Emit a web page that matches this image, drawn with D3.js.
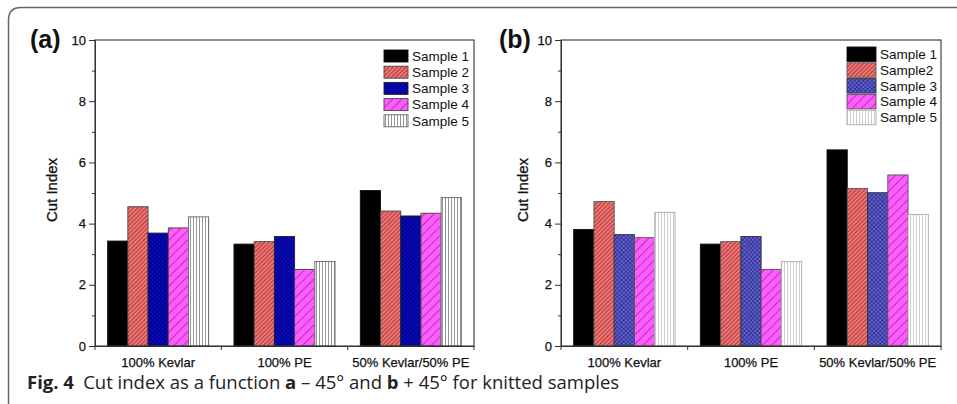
<!DOCTYPE html>
<html><head><meta charset="utf-8">
<script src="https://cdn.jsdelivr.net/npm/d3@7"></script>
<style>
html,body{margin:0;padding:0;background:#fff;}
svg{display:block;}
</style></head>
<body>
<svg id="c" width="957" height="404"></svg>
<script>
const categories = ["100% Kevlar", "100% PE", "50% Kevlar/50% PE"];
const samplesA = ["Sample 1", "Sample 2", "Sample 3", "Sample 4", "Sample 5"];
const samplesB = ["Sample 1", "Sample2", "Sample 3", "Sample 4", "Sample 5"];
// values[sample][category]
const valuesA = [
  [3.43, 3.33, 5.08],
  [4.55, 3.41, 4.41],
  [3.69, 3.58, 4.25],
  [3.86, 2.50, 4.34],
  [4.22, 2.76, 4.85]
];
const valuesB = [
  [3.81, 3.33, 6.41],
  [4.72, 3.41, 5.15],
  [3.64, 3.58, 5.01],
  [3.54, 2.50, 5.59],
  [4.37, 2.76, 4.30]
];
const yTicks = [0, 2, 4, 6, 8, 10];
const yMinorTicks = [1, 3, 5, 7, 9];

const svg = d3.select("#c");
const defs = svg.append("defs");

function hatch(id, bg, stroke, spacing, kind, sw) {
  const p = defs.append("pattern").attr("id", id).attr("patternUnits", "userSpaceOnUse")
    .attr("width", spacing).attr("height", spacing);
  if (kind === "diag" || kind === "cross") p.attr("patternTransform", "rotate(45)");
  p.append("rect").attr("width", spacing).attr("height", spacing).attr("fill", bg);
  if (kind === "vert" || kind === "diag" || kind === "cross") {
    p.append("line").attr("x1", spacing / 2).attr("x2", spacing / 2).attr("y1", 0).attr("y2", spacing)
      .attr("stroke", stroke).attr("stroke-width", sw);
  }
  if (kind === "cross") {
    p.append("line").attr("y1", spacing / 2).attr("y2", spacing / 2).attr("x1", 0).attr("x2", spacing)
      .attr("stroke", stroke).attr("stroke-width", sw);
  }
}
hatch("a2", "#f07474", "#a83838", 3, "diag", 0.9);
hatch("a3", "#0a0ad0", "#000070", 3, "cross", 0.8);
hatch("a4", "#ff5cff", "#b030b0", 6.5, "diag", 0.9);
hatch("a5", "#ffffff", "#8a8a8a", 3, "vert", 0.9);
hatch("b2", "#f07474", "#a83838", 3, "diag", 0.9);
hatch("b3", "#6262e0", "#30307a", 3, "cross", 0.8);
hatch("b4", "#ff5cff", "#b030b0", 6.5, "diag", 0.9);
hatch("b5", "#ffffff", "#c8c8c8", 3, "vert", 0.9);

const fillsA = ["#000", "url(#a2)", "url(#a3)", "url(#a4)", "url(#a5)"];
const strokesA = ["#111", "#444", "#222", "#444", "#666"];
const fillsB = ["#000", "url(#b2)", "url(#b3)", "url(#b4)", "url(#b5)"];
const strokesB = ["#111", "#555", "#333", "#555", "#aaa"];

// outer frame
svg.append("path")
  .attr("d", "M8.5,404 L8.5,20 Q8.5,7.5 21,7.5 L957,7.5")
  .attr("fill", "none").attr("stroke", "#666").attr("stroke-width", 1.5);

const FONT = "'Liberation Sans', Arial, sans-serif";

function panel(cfg) {
  const g = svg.append("g");
  const x = d3.scaleBand().domain(categories).range([cfg.x0, cfg.x1]).paddingInner(0).paddingOuter(0);
  const xs = d3.scaleBand().domain(d3.range(cfg.samples.length))
    .range([x.bandwidth() * 0.1, x.bandwidth() * 0.9]).padding(0);
  const y = d3.scaleLinear().domain([0, 10]).range([cfg.yb, cfg.yt]);

  // bars
  cfg.values.forEach((row, si) => {
    g.selectAll(null).data(row.map((v, ci) => ({ v, c: categories[ci] }))).enter().append("rect")
      .attr("x", d => x(d.c) + xs(si))
      .attr("width", xs.bandwidth())
      .attr("y", d => y(d.v))
      .attr("height", d => y(0) - y(d.v))
      .attr("fill", cfg.fills[si])
      .attr("stroke", cfg.strokes[si])
      .attr("stroke-width", 0.9);
  });

  // frame
  g.append("rect").attr("x", cfg.x0).attr("y", cfg.yt).attr("width", cfg.x1 - cfg.x0).attr("height", cfg.yb - cfg.yt)
    .attr("fill", "none").attr("stroke", "#333").attr("stroke-width", 1.1);

  // y axis
  const ya = g.append("g").attr("transform", `translate(${cfg.x0},0)`)
    .call(d3.axisLeft(y).tickValues(yTicks).tickSize(6).tickPadding(3).tickFormat(d3.format("d")));
  ya.select(".domain").attr("stroke", "#333");
  ya.selectAll(".tick line").attr("stroke", "#333");
  ya.selectAll("text").attr("font-family", FONT).attr("font-size", 13).attr("fill", "#111")
    .attr("stroke", "#111").attr("stroke-width", 0.25);
  const ym = g.append("g").attr("transform", `translate(${cfg.x0},0)`)
    .call(d3.axisLeft(y).tickValues(yMinorTicks).tickSize(3).tickFormat(""));
  ym.select(".domain").remove();
  ym.selectAll(".tick line").attr("stroke", "#333");

  // x axis
  const xa = g.append("g").attr("transform", `translate(0,${cfg.yb})`)
    .call(d3.axisBottom(x).tickSize(0).tickPadding(12));
  xa.select(".domain").attr("stroke", "#333");
  xa.selectAll("text").attr("font-family", FONT).attr("font-size", 13).attr("fill", "#111")
    .attr("stroke", "#111").attr("stroke-width", 0.25);
  const bounds = categories.map(c => x(c)).concat([cfg.x1]);
  g.selectAll(null).data(bounds).enter().append("line")
    .attr("x1", d => d).attr("x2", d => d).attr("y1", cfg.yb).attr("y2", cfg.yb + 4)
    .attr("stroke", "#333");

  // y label
  g.append("text").attr("transform", `translate(${cfg.ylx},${(cfg.yt + cfg.yb) / 2 - 3}) rotate(-90)`)
    .attr("text-anchor", "middle").attr("font-family", FONT).attr("font-size", 15).attr("fill", "#111")
    .attr("stroke", "#111").attr("stroke-width", 0.3)
    .text("Cut Index");

  // panel label
  g.append("text").attr("x", cfg.plx).attr("y", 48).attr("font-family", FONT).attr("font-weight", "bold")
    .attr("font-size", 25).attr("fill", "#111").text(cfg.label);

  // legend
  const lg = g.append("g");
  cfg.samples.forEach((s, i) => {
    const yy = cfg.ly + i * cfg.lstep;
    lg.append("rect").attr("x", cfg.lx).attr("y", yy).attr("width", cfg.lw).attr("height", cfg.lh)
      .attr("fill", cfg.fills[i]).attr("stroke", cfg.strokes[i]).attr("stroke-width", 0.9);
    lg.append("text").attr("x", cfg.lx + cfg.lw + 4).attr("y", yy + cfg.lh / 2).attr("dy", "0.35em")
      .attr("font-family", FONT).attr("font-size", 13.5).attr("fill", "#111").text(s);
  });
}

panel({ x0: 95, x1: 474, yt: 40, yb: 346, values: valuesA, samples: samplesA, fills: fillsA, strokes: strokesA,
  ylx: 57, plx: 30, label: "(a)", lx: 384, lw: 24, lh: 12, ly: 50, lstep: 16.2 });
panel({ x0: 561, x1: 941, yt: 40, yb: 346, values: valuesB, samples: samplesB, fills: fillsB, strokes: strokesB,
  ylx: 528, plx: 499, label: "(b)", lx: 847, lw: 29, lh: 14.5, ly: 47, lstep: 15.8 });

// caption
const cap = svg.append("text").attr("x", 27).attr("y", 389)
  .attr("font-family", "'Open Sans', 'Noto Sans', sans-serif").attr("font-size", 18.5).attr("fill", "#222");
cap.append("tspan").attr("font-weight", "bold").text("Fig. 4");
cap.append("tspan").text("\u2002Cut index as a function ");
cap.append("tspan").attr("font-weight", "bold").text("a");
cap.append("tspan").text(" \u2013 45\u00b0 and ");
cap.append("tspan").attr("font-weight", "bold").text("b");
cap.append("tspan").text(" + 45\u00b0 for knitted samples");
</script>
</body></html>
